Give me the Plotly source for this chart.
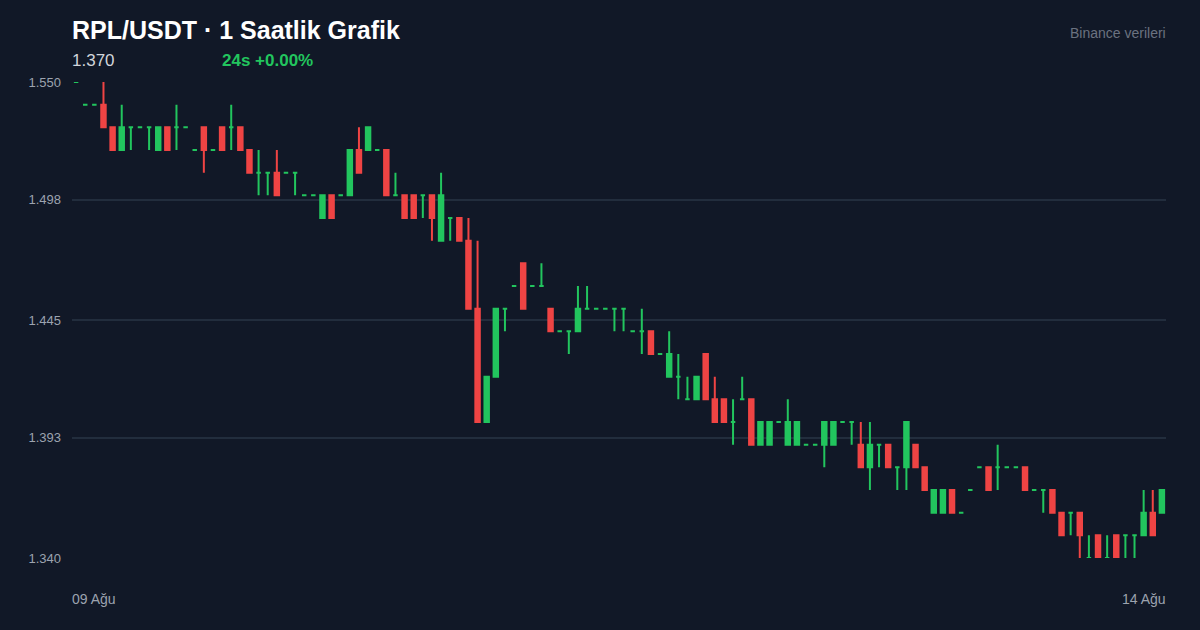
import plotly.graph_objects as go
import pandas as pd

start = "2024-08-09 00:00"
opens = [1.55,1.54,1.54,1.54,1.53,1.52,1.53,1.53,1.53,1.52,1.53,1.53,1.53,1.52,1.53,1.52,1.53,1.53,1.53,1.52,
         1.51,1.51,1.51,1.51,1.51,1.50,1.50,1.49,1.50,1.50,1.50,1.52,1.52,1.52,1.52,1.50,1.50,1.50,1.50,1.50,
         1.48,1.49,1.49,1.48,1.45,1.40,1.42,1.45,1.46,1.47,1.46,1.46,1.45,1.44,1.44,1.44,1.45,1.45,1.45,1.45,
         1.45,1.44,1.44,1.44,1.43,1.42,1.42,1.41,1.41,1.43,1.41,1.41,1.40,1.41,1.41,1.39,1.39,1.40,1.39,1.39,
         1.39,1.39,1.39,1.39,1.40,1.40,1.39,1.38,1.39,1.39,1.38,1.38,1.39,1.38,1.36,1.36,1.37,1.36,1.37,1.38,
         1.38,1.38,1.38,1.38,1.38,1.37,1.37,1.37,1.36,1.36,1.36,1.34,1.35,1.34,1.35,1.35,1.35,1.35,1.36,1.36]
highs = [1.55,1.54,1.54,1.55,1.53,1.54,1.53,1.53,1.53,1.53,1.53,1.54,1.53,1.52,1.53,1.52,1.53,1.54,1.53,1.52,
         1.52,1.51,1.52,1.51,1.51,1.50,1.50,1.50,1.50,1.50,1.52,1.53,1.53,1.52,1.52,1.51,1.50,1.50,1.50,1.50,
         1.51,1.49,1.49,1.49,1.48,1.42,1.45,1.45,1.46,1.47,1.46,1.47,1.45,1.44,1.44,1.46,1.46,1.45,1.45,1.45,
         1.45,1.44,1.45,1.44,1.43,1.44,1.43,1.42,1.42,1.43,1.42,1.41,1.41,1.42,1.41,1.40,1.40,1.40,1.41,1.40,
         1.39,1.39,1.40,1.40,1.40,1.40,1.40,1.40,1.39,1.39,1.38,1.40,1.39,1.38,1.37,1.37,1.37,1.36,1.37,1.38,
         1.38,1.39,1.38,1.38,1.38,1.37,1.37,1.37,1.36,1.36,1.36,1.35,1.35,1.35,1.35,1.35,1.35,1.37,1.37,1.37]
lows = [1.55,1.54,1.54,1.53,1.52,1.52,1.52,1.53,1.52,1.52,1.52,1.52,1.53,1.52,1.51,1.52,1.52,1.52,1.52,1.51,
        1.50,1.50,1.50,1.51,1.50,1.50,1.50,1.49,1.49,1.50,1.50,1.51,1.52,1.52,1.50,1.50,1.49,1.49,1.49,1.48,
        1.48,1.48,1.48,1.45,1.40,1.40,1.42,1.44,1.46,1.45,1.46,1.46,1.44,1.44,1.43,1.44,1.45,1.45,1.45,1.44,
        1.44,1.44,1.43,1.43,1.43,1.42,1.41,1.41,1.41,1.41,1.40,1.40,1.39,1.41,1.39,1.39,1.39,1.40,1.39,1.39,
        1.39,1.39,1.38,1.39,1.40,1.39,1.38,1.37,1.38,1.38,1.37,1.37,1.38,1.37,1.36,1.36,1.36,1.36,1.37,1.38,
        1.37,1.37,1.38,1.38,1.37,1.37,1.36,1.36,1.35,1.35,1.34,1.34,1.34,1.34,1.34,1.34,1.34,1.35,1.35,1.36]
closes = [1.55,1.54,1.54,1.53,1.52,1.53,1.53,1.53,1.53,1.53,1.52,1.53,1.53,1.52,1.52,1.52,1.52,1.53,1.52,1.51,
          1.51,1.51,1.50,1.51,1.51,1.50,1.50,1.50,1.49,1.50,1.52,1.51,1.53,1.52,1.50,1.50,1.49,1.49,1.50,1.49,
          1.50,1.49,1.48,1.45,1.40,1.42,1.45,1.45,1.46,1.45,1.46,1.46,1.44,1.44,1.44,1.45,1.45,1.45,1.45,1.45,
          1.45,1.44,1.44,1.43,1.43,1.43,1.42,1.41,1.42,1.41,1.40,1.40,1.40,1.41,1.39,1.40,1.40,1.40,1.40,1.40,
          1.39,1.39,1.40,1.40,1.40,1.40,1.38,1.39,1.39,1.38,1.38,1.40,1.38,1.37,1.37,1.37,1.36,1.36,1.37,1.38,
          1.37,1.38,1.38,1.38,1.37,1.37,1.37,1.36,1.35,1.36,1.35,1.34,1.34,1.34,1.34,1.35,1.35,1.36,1.35,1.37]
y_ticks = [1.550, 1.498, 1.445, 1.393, 1.340]
x_labels = ["09 Ağu", "14 Ağu"]

times = pd.date_range(start, periods=len(opens), freq="h")
df = pd.DataFrame(dict(t=times, o=opens, h=highs, l=lows, c=closes))
GREEN, RED = "#22c55e", "#ef4444"

fig = go.Figure()
for mask, col in [(df.c >= df.o, GREEN), (df.c < df.o, RED)]:
    d = df[mask]
    fig.add_trace(go.Candlestick(
        x=d.t, open=d.o, high=d.h, low=d.l, close=d.c,
        increasing=dict(line=dict(color=col, width=2), fillcolor=col),
        decreasing=dict(line=dict(color=col, width=2), fillcolor=col),
        whiskerwidth=0, hoverinfo="skip", showlegend=False))

half = pd.Timedelta(minutes=27)
fig.update_layout(
    width=1200, height=630, paper_bgcolor="#111827", plot_bgcolor="#111827",
    margin=dict(l=72, r=34, t=82, b=72),
    font=dict(family="Liberation Sans, Arial, sans-serif", color="#9ca3af"),
    xaxis=dict(range=[times[0] - half, times[-1] + half], showgrid=False, showticklabels=False,
               rangeslider=dict(visible=False), zeroline=False, showline=False),
    yaxis=dict(range=[1.34, 1.55], tickvals=y_ticks, ticktext=[f"{v:.3f}" for v in y_ticks],
               gridcolor="#222d3d", gridwidth=1.5, zeroline=False, showline=False,
               tickfont=dict(size=13, color="#9ca3af"), ticks="", ticklabelstandoff=10),
    annotations=[
        dict(text="<b>RPL/USDT · 1 Saatlik Grafik</b>", xref="paper", yref="paper", x=0, xshift=-2, y=1, yshift=52,
             xanchor="left", yanchor="middle", showarrow=False, font=dict(size=25, color="#ffffff")),
        dict(text="1.370", xref="paper", yref="paper", x=0, xshift=-2, y=1, yshift=22, xanchor="left",
             yanchor="middle", showarrow=False, font=dict(size=17, color="#d1d5db")),
        dict(text="<b>24s +0.00%</b>", xref="paper", yref="paper", x=0, xshift=148, y=1, yshift=22,
             xanchor="left", yanchor="middle", showarrow=False, font=dict(size=17, color=GREEN)),
        dict(text="Binance verileri", xref="paper", yref="paper", x=1, xshift=2, y=1, yshift=49, xanchor="right",
             yanchor="middle", showarrow=False, font=dict(size=14, color="#6b7280")),
        dict(text=x_labels[0], xref="paper", yref="paper", x=0, xshift=-2, y=0, yshift=-41, xanchor="left",
             yanchor="middle", showarrow=False, font=dict(size=14, color="#9ca3af")),
        dict(text=x_labels[1], xref="paper", yref="paper", x=1, xshift=2, y=0, yshift=-41, xanchor="right",
             yanchor="middle", showarrow=False, font=dict(size=14, color="#9ca3af")),
    ])
fig.write_html("out.html", config={"displayModeBar": False})
with open("out.html", encoding="utf-8") as f:
    html = f.read()
html = html.replace("<head>", "<head><style>html,body{margin:0;padding:0;background:#111827;overflow:hidden}</style>", 1)
with open("out.html", "w", encoding="utf-8") as f:
    f.write(html)
